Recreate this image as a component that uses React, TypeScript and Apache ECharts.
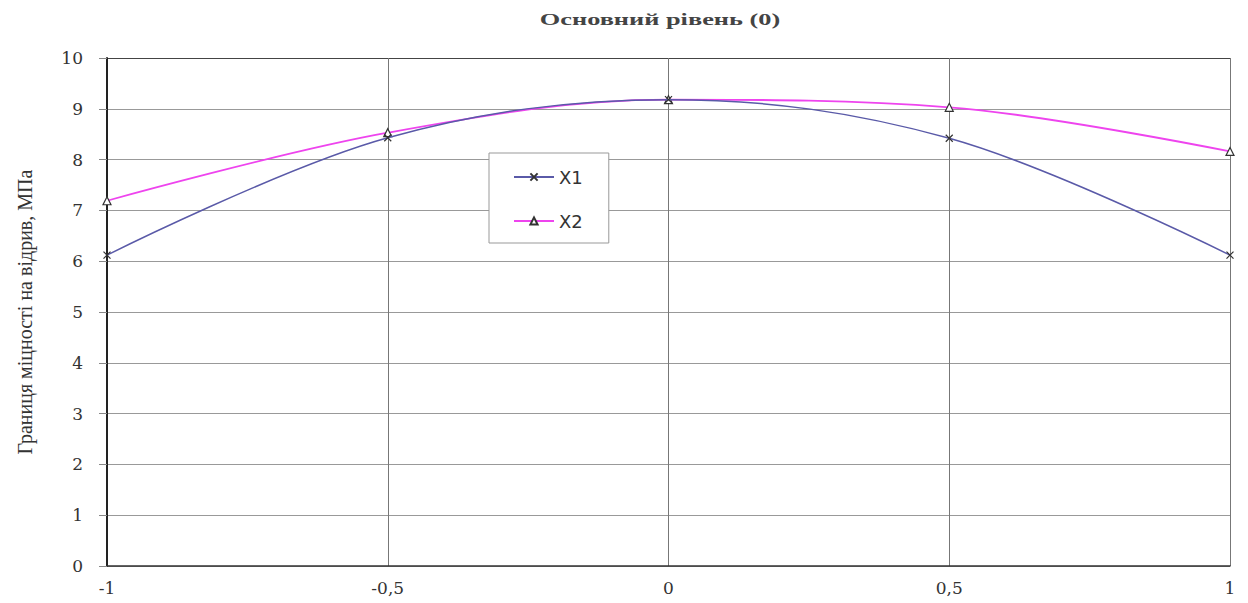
import React, { useEffect, useRef } from "react";
import * as echarts from "echarts";

const xValues = [-1, -0.5, 0, 0.5, 1];
const x1Values = [6.12, 8.43, 9.18, 8.42, 6.12];
const x2Values = [7.19, 8.53, 9.18, 9.03, 8.16];
const seriesNames = ["X1", "X2"];
const titleText = "Основний рівень (0)";
const yAxisTitle = "Границя міцності на відрив, МПа";

const crossPath = "path://M0,0L10,10M10,0L0,10";

export default function App() {
  const ref = useRef<HTMLDivElement>(null);
  useEffect(() => {
    if (!ref.current) return;
    const chart = echarts.init(ref.current, undefined, { renderer: "svg" });
    const serif = "'Liberation Serif', 'Times New Roman', serif";
    const wideSerif = "'DejaVu Serif', serif";
    const ySplitColors = ["#999", "#999", "#999", "#999", "#999", "#999", "#999", "#999", "#999", "#999", "#444"];
    chart.setOption({
      animation: false,
      backgroundColor: "#ffffff",
      graphic: [
        {
          type: "text",
          x: 660,
          y: 19,
          scaleX: 1.55,
          style: {
            text: titleText,
            font: "bold 17px 'Liberation Serif', serif",
            fill: "#444",
            textAlign: "center",
            textVerticalAlign: "middle",
          },
        },
      ],
      legend: {
        orient: "vertical",
        left: 489,
        top: 153,
        padding: [15, 26, 13, 24],
        itemGap: 26,
        itemWidth: 40,
        itemHeight: 9,
        backgroundColor: "#fff",
        borderColor: "#999",
        borderWidth: 1,
        textStyle: { fontFamily: "'DejaVu Sans', sans-serif", fontSize: 18, color: "#333" },
        data: seriesNames,
      },
      grid: { left: 107, top: 58, right: 18, bottom: 37, containLabel: false },
      xAxis: {
        type: "value",
        min: -1,
        max: 1,
        interval: 0.5,
        axisLine: { show: true, onZero: false, lineStyle: { color: "#333", width: 1.5 } },
        axisTick: { show: false },
        splitLine: { show: true, lineStyle: { color: "#777", width: 1 } },
        axisLabel: {
          fontFamily: wideSerif,
          fontSize: 17,
          color: "#333",
          margin: 13,
          formatter: (v: number) => String(v).replace(".", ","),
        },
      },
      yAxis: {
        type: "value",
        min: 0,
        max: 10,
        interval: 1,
        name: yAxisTitle,
        nameLocation: "middle",
        nameGap: 72,
        nameTextStyle: { fontFamily: serif, fontSize: 20, color: "#333" },
        axisLine: { show: true, onZero: false, lineStyle: { color: "#222", width: 2 } },
        axisTick: { show: true, length: 8, lineStyle: { color: "#888" } },
        splitLine: { show: true, lineStyle: { color: ySplitColors, width: 1 } },
        axisLabel: { fontFamily: wideSerif, fontSize: 17, color: "#333", margin: 24 },
      },
      series: [
        {
          name: seriesNames[0],
          type: "line",
          smooth: 0.35,
          data: xValues.map((x, i) => [x, x1Values[i]]),
          lineStyle: { color: "#5a5aa8", width: 1.5 },
          symbol: crossPath,
          symbolSize: 7,
          itemStyle: { color: "#333", borderColor: "#333", borderWidth: 1.2 },
          z: 3,
        },
        {
          name: seriesNames[1],
          type: "line",
          smooth: 0.35,
          data: xValues.map((x, i) => [x, x2Values[i]]),
          lineStyle: { color: "#ee44ee", width: 1.8 },
          symbol: "triangle",
          symbolSize: 8,
          itemStyle: { color: "#fff", borderColor: "#333", borderWidth: 1.2 },
          z: 2,
        },
      ],
    });
    return () => chart.dispose();
  }, []);
  return (
    <div
      ref={ref}
      style={{ position: "fixed", left: 0, top: 0, width: 1248, height: 603 }}
    />
  );
}
